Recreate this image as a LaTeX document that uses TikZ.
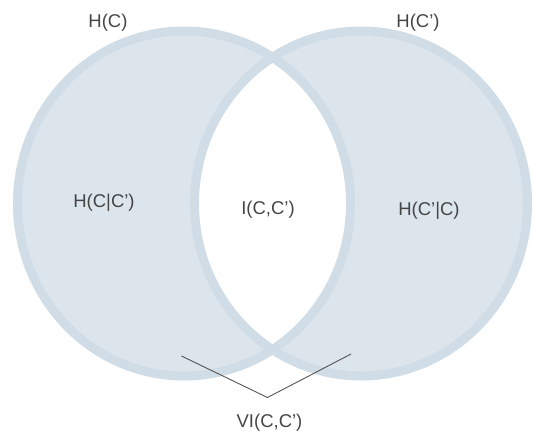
\documentclass[tikz,border=0pt]{standalone}
\usepackage{fontspec}
\setmainfont{Liberation Sans}
\definecolor{vfill}{HTML}{DCE4EC}
\definecolor{vring}{HTML}{D0DDE7}
\definecolor{vtext}{HTML}{454545}
\definecolor{vline}{HTML}{555555}
\begin{document}
\begin{tikzpicture}[x=1pt,y=-1pt,
  lbl/.style={text=vtext,font=\fontsize{18.5}{22}\selectfont,inner sep=0pt},
  ringline/.style={draw=vring,line width=9pt},
  brace/.style={draw=vline,line width=0.9pt}]
\useasboundingbox (0,0) rectangle (533,437);
\coordinate (cl) at (184,203.5);
\coordinate (cr) at (361,203.5);
% fill symmetric difference
\fill[vfill,even odd rule] (cl) ellipse [x radius=166.5,y radius=172.5]
  (cr) ellipse [x radius=166.5,y radius=172.5];
% rings
\draw[ringline] (cl) ellipse [x radius=166.5,y radius=172.5];
\draw[ringline] (cr) ellipse [x radius=166.5,y radius=172.5];
% labels
\node[lbl] (hc) at (108,23) {H(C)};
\node[lbl] (hcp) at (418,23) {H(C’)};
\node[lbl] (hcgcp) at (104,203) {H(C|C’)};
\node[lbl] (icc) at (268,209.5) {I(C,C’)};
\node[lbl] (hcpgc) at (429,211) {H(C’|C)};
\node[lbl] (vi) at (269.5,423) {VI(C,C’)};
% connector
\coordinate (vl) at (181.5,356);
\coordinate (vv) at (267.5,397.5);
\coordinate (vr) at (351,354);
\draw[brace] (vl) -- (vv) -- (vr);
\end{tikzpicture}
\end{document}
